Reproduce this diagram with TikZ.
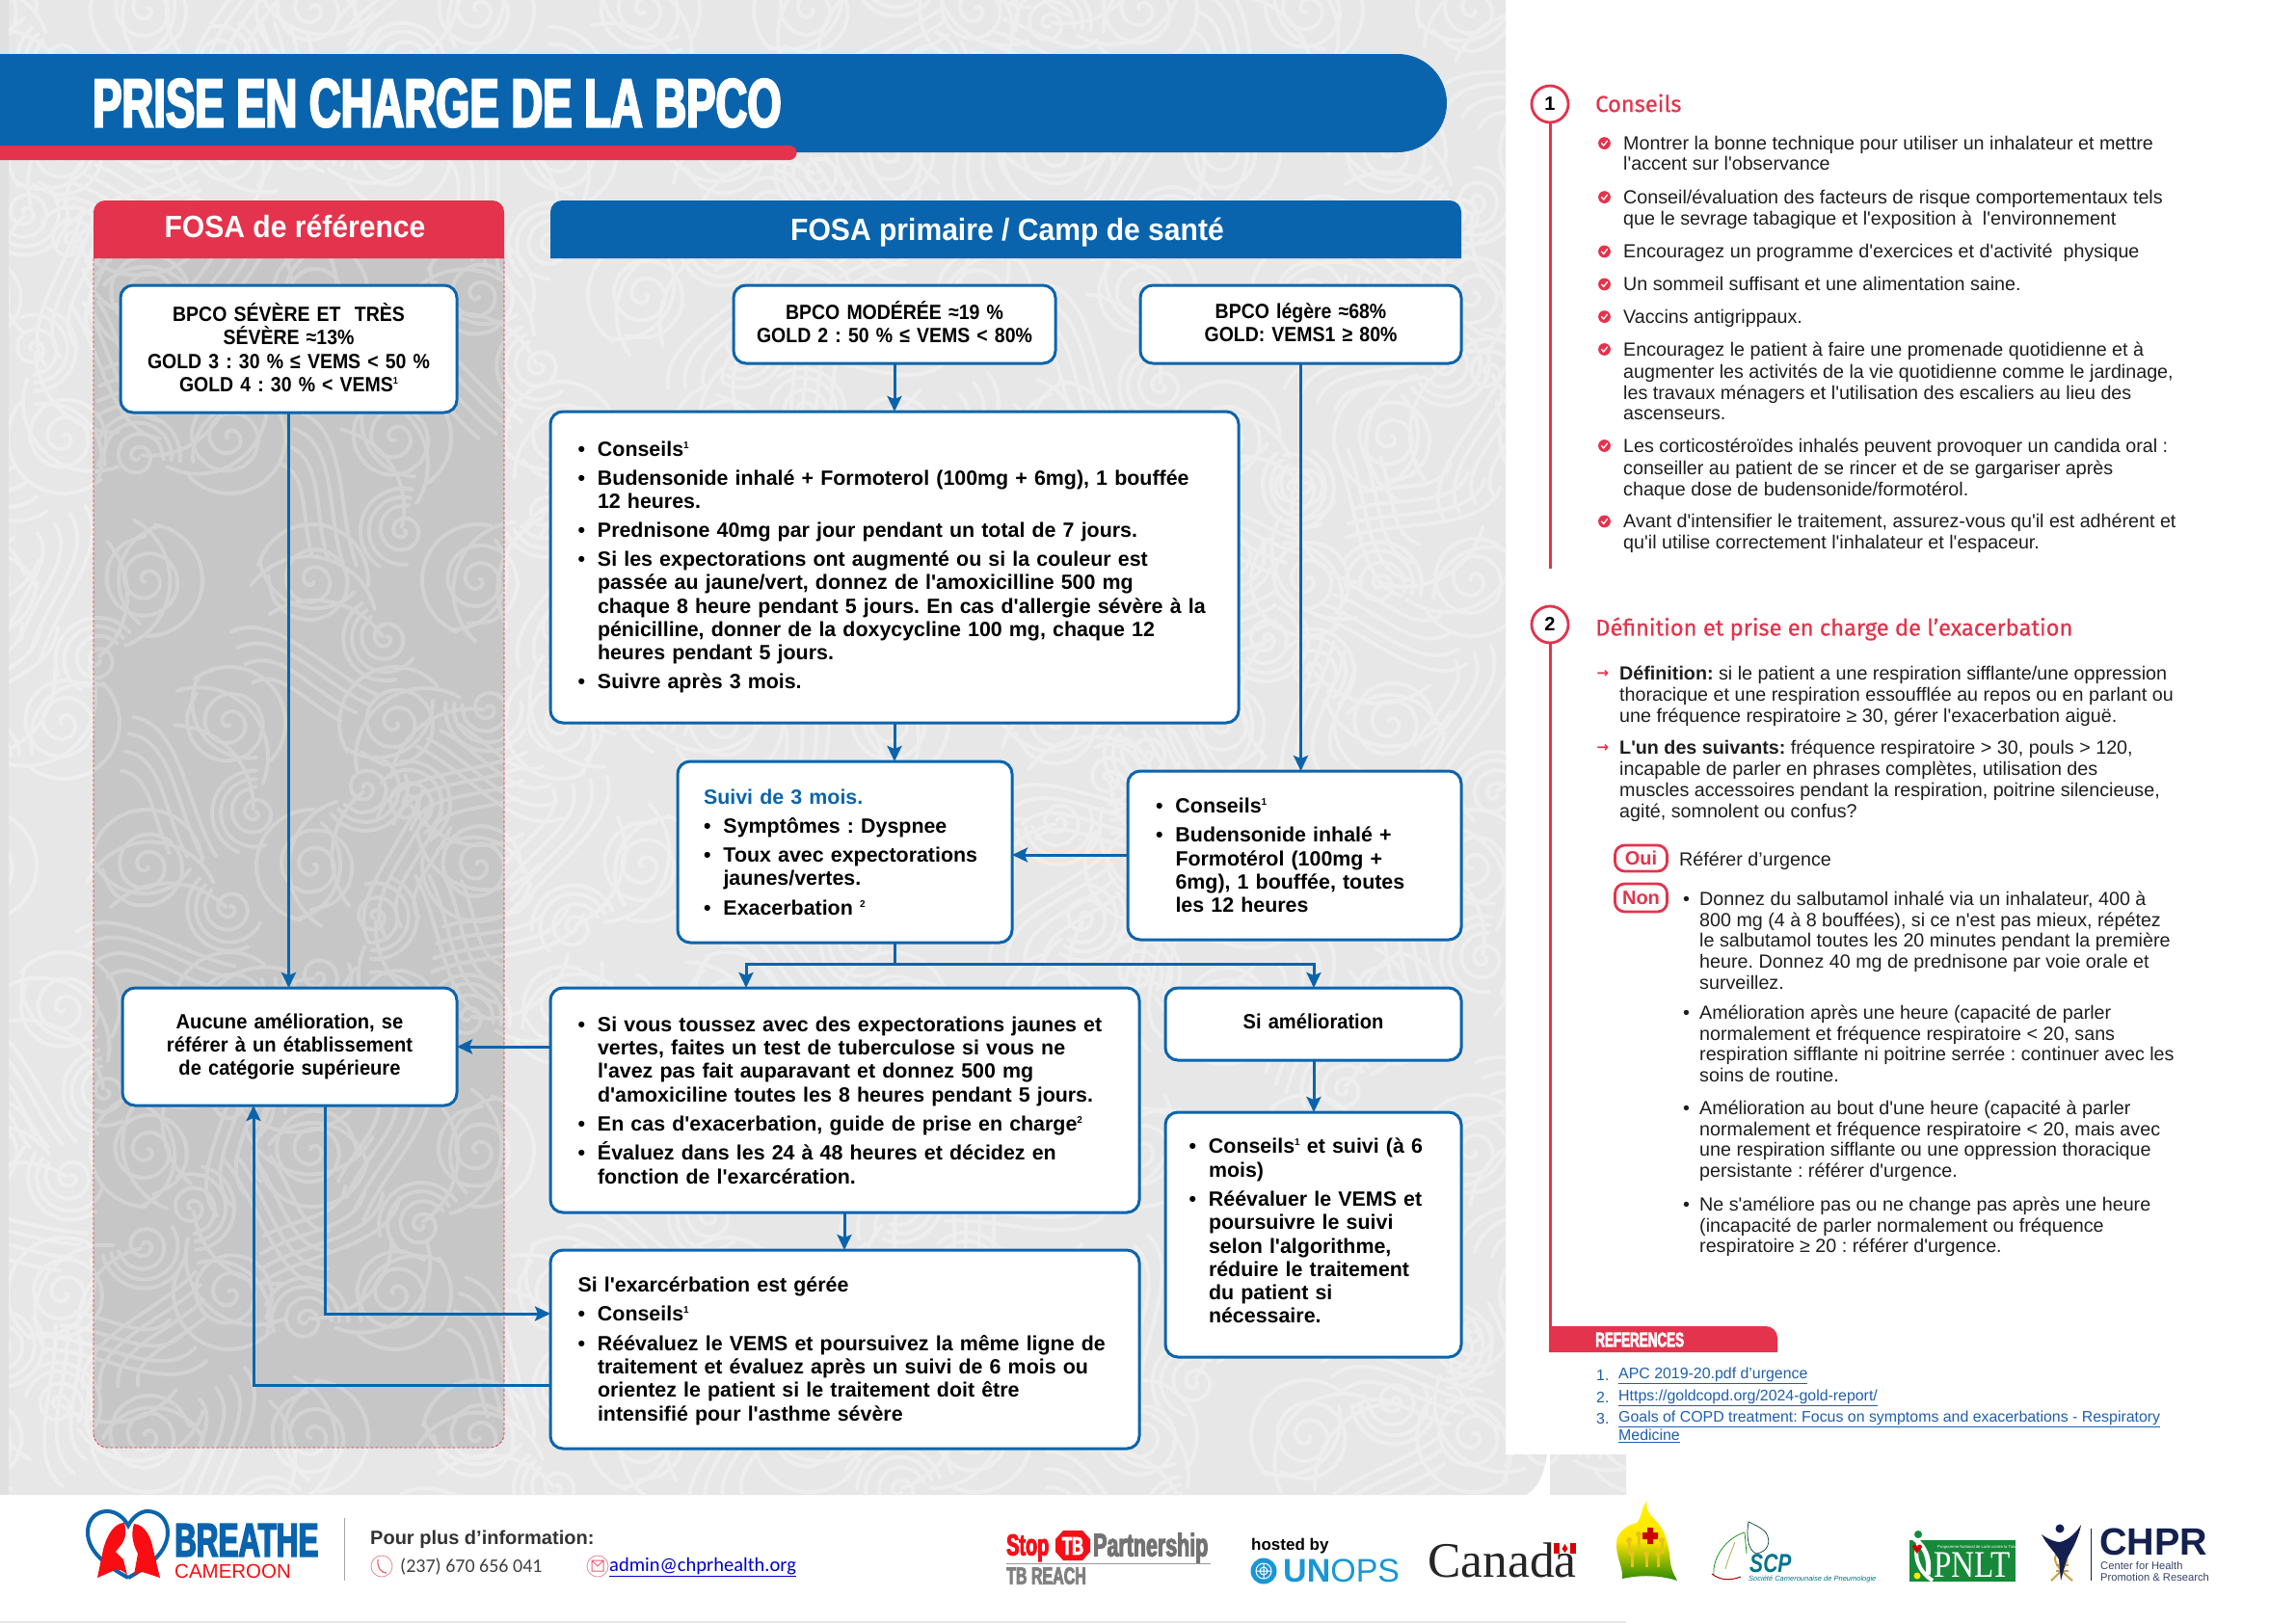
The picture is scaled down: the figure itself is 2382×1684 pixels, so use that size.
\documentclass[tikz,border=0pt]{standalone}
\usepackage{fontspec}
\defaultfontfeatures[\rmfamily]{}
\setmainfont{Liberation Sans}
\newfontfamily\condf[FakeStretch=0.64,FakeBold=3]{Liberation Sans}
\newfontfamily\narf[FakeStretch=0.91]{Liberation Sans}
\newfontfamily\narg[FakeStretch=0.94]{Liberation Sans}
\newfontfamily\narh[FakeStretch=0.94]{Liberation Sans}
\newfontfamily\headf[FakeBold=0.5]{Fira Sans}
\newfontfamily\carl{Carlito}
\newfontfamily\serf{Liberation Serif}
\newfontfamily\djv{DejaVu Sans}
\AtBeginDocument{\frenchspacing}
\usetikzlibrary{arrows.meta,calc}
\definecolor{fblue}{HTML}{0A64AD}
\definecolor{cred}{HTML}{E4334C}
\definecolor{bgg}{HTML}{E7E7E7}
\definecolor{bgs}{HTML}{EEEEEE}
\definecolor{pang}{HTML}{C6C6C6}
\definecolor{pans}{HTML}{D2D2D2}
\definecolor{txtk}{HTML}{1E1E1E}
\definecolor{linkb}{HTML}{1F5FAE}
\definecolor{navy}{HTML}{14204F}
\definecolor{gold}{HTML}{C9A24A}
\definecolor{pgreen}{HTML}{178A3A}
\definecolor{unb}{HTML}{1A96D4}
\newcommand{\flowf}{\fontsize{21.4}{24.3}\selectfont\bfseries}
\newcommand{\rtf}{\fontsize{19.7}{21.7}\selectfont}
\newcommand{\rtg}{\fontsize{19.7}{22}\selectfont}
\newcommand{\rth}{\fontsize{19.7}{21.6}\selectfont}
\newcommand{\bl}{\makebox[20.5pt][l]{•}}
\newcommand{\ct}{\hspace*{20.5pt}}
\newcommand{\rb}{\makebox[17pt][l]{•}}
\newcommand{\rc}{\hspace*{17pt}}
\newcommand{\sps}[1]{\raisebox{8pt}{\fontsize{10}{10}\selectfont #1}}
\newcommand{\swtile}{%
  \draw plot[smooth,variable=\t,domain=0.05:1,samples=28] ({46*\t*cos(900*\t)},{46*\t*sin(900*\t)});
  \draw (58,0) arc[start angle=0,end angle=170,radius=58pt];
  \draw (67.5,23) arc[start angle=20,end angle=150,radius=72pt];
  \draw (78,50) arc[start angle=40,end angle=130,radius=84pt];
  \draw (-56,-14) arc[start angle=195,end angle=320,radius=58pt];
  \draw (-78,62) .. controls (-35,35) and (25,95) .. (82,112);
  \draw (-70,78) .. controls (-30,52) and (20,105) .. (72,122);
  \draw (-60,94) .. controls (-25,72) and (15,118) .. (60,132);
  \draw (-50,112) .. controls (-25,94) and (5,126) .. (44,142);
  \begin{scope}[shift={(82,52)},rotate=130]
  \draw plot[smooth,variable=\t,domain=0.08:1,samples=20] ({27*\t*cos(720*\t)},{27*\t*sin(720*\t)});
  \draw (35,0) arc[start angle=0,end angle=200,radius=35pt];
  \draw (44,0) arc[start angle=0,end angle=160,radius=44pt];
  \end{scope}
}
\newcommand{\swirls}[5]{% colour, first col, last col, first row, last row
  \begin{scope}[draw=#1,line width=4pt,line cap=round]
  \foreach \c in {#2,...,#3}{\foreach \r in {#4,...,#5}{
    \pgfmathsetmacro{\px}{\c*172+mod(\r,2)*86-20}
    \pgfmathsetmacro{\py}{\r*148+10}
    \pgfmathsetmacro{\ro}{mod(\c*83+\r*47,360)}
    \begin{scope}[shift={(\px,\py)},rotate=\ro]\swtile\end{scope}
  }}
  \end{scope}
}
\tikzset{
  box/.style={draw=fblue,line width=3pt,fill=white,rounded corners=13pt,inner ysep=0pt,outer sep=0pt,font=\flowf,text=black,anchor=north west},
  arr/.style={draw=fblue,line width=3pt,-{Stealth[length=16pt,width=15pt,inset=3pt]}},
  lin/.style={draw=fblue,line width=3pt},
  rt/.style={anchor=north west,inner sep=0pt,font=\rtf,text=txtk,align=left,yshift=8pt},
  ft/.style={anchor=west,inner sep=0pt},
  redl/.style={draw=cred,line width=3pt},
  numc/.style={circle,draw=cred,line width=2.8pt,fill=white,minimum size=38pt,inner sep=0pt,font=\fontsize{20}{20}\selectfont\bfseries,text=black},
  pill/.style={draw=cred,line width=2.8pt,fill=white,rounded corners=10pt,inner sep=0pt,minimum width=54pt,minimum height=27pt,font=\fontsize{20}{20}\selectfont\bfseries,text=cred},
  hd/.style={anchor=west,inner sep=0pt,font=\headf\fontsize{23.7}{26}\selectfont,text=cred},
  lk/.style={anchor=west,inner sep=0pt,font=\fontsize{15.9}{18}\selectfont,text=linkb},
  hdr/.style={inner sep=0pt,text=white,font=\narh\bfseries\fontsize{32}{33}\selectfont},
}
\newcommand{\chk}[2]{\fill[cred] (#1,#2) circle (6.4pt);
  \draw[white,line width=1.3pt,line cap=round] ({#1-3},{#2}) -- ({#1-0.8},{#2+2.4}) -- ({#1+3},{#2-2.4});}
\newcommand{\rarw}[2]{\node[anchor=center,inner sep=0pt,text=cred,font=\djv\fontsize{15}{15}\selectfont\bfseries] (#2) at (1663,#1) {→};}
\begin{document}
\begin{tikzpicture}[x=1pt,y=-1pt]
\useasboundingbox (0,0) rectangle (2382,1684);
% ---- backgrounds
\fill[white] (0,0) rectangle (2382,1684);
\begin{scope}
\clip (0,0) -- (1562,0) -- (1562,1509) -- (1605,1509) .. controls (1602,1530) and (1595,1545) .. (1583,1551) -- (0,1551) -- cycle
      (1608,1509) rectangle (1687,1551);
\fill[bgg] (0,0) rectangle (1700,1560);
\swirls{bgs}{0}{10}{0}{10}
\end{scope}
\fill[black!12] (0,0) rectangle (9,1551);
\fill[bgg] (0,1682) rectangle (1687,1684);
% ---- title band
\fill[fblue] (0,56) -- (1450,56) arc[start angle=90,end angle=-90,radius=51pt] -- (0,158) -- cycle;
\fill[cred] (0,151) -- (819,151) arc[start angle=90,end angle=-90,radius=7.5pt] -- (0,166) -- cycle;
\node[anchor=west,inner sep=0pt,text=white,font=\condf\bfseries\fontsize{71}{71}\selectfont] (title) at (96,107) {PRISE EN CHARGE DE LA BPCO};
% ---- FOSA de reference panel
\begin{scope}
\clip (97,268) -- (97,1487) arc[start angle=180,end angle=270,radius=15pt] -- (508,1502) arc[start angle=270,end angle=360,radius=15pt] -- (523,268) -- cycle;
\fill[pang] (90,260) rectangle (530,1510);
\swirls{pans}{0}{3}{1}{10}
\end{scope}
\draw[cred,line width=.8pt,densely dashed] (97,268) -- (97,1487) arc[start angle=180,end angle=270,radius=15pt] -- (508,1502) arc[start angle=270,end angle=360,radius=15pt] -- (523,268);
\fill[cred] (97,268) -- (97,220) arc[start angle=180,end angle=90,radius=12pt] -- (511,208) arc[start angle=90,end angle=0,radius=12pt] -- (523,268) -- cycle;
\node[hdr] (hleft) at (306,235) {FOSA de référence};
\fill[fblue] (571,268) -- (571,220) arc[start angle=180,end angle=90,radius=12pt] -- (1504,208) arc[start angle=90,end angle=0,radius=12pt] -- (1516,268) -- cycle;
\node[hdr] (hright) at (1045,241) {FOSA primaire / Camp de santé};
% ---- flow boxes
\node[box,font=\narf\flowf,align=center,text width=340pt,inner xsep=4.5pt,minimum height=132pt] (A) at (125,296)
 {BPCO SÉVÈRE ET \ TRÈS\\SÉVÈRE ≈13\%\\GOLD 3 : 30 \% ≤ VEMS < 50 \%\\GOLD 4 : 30 \% < VEMS\sps{1}\rule[-3pt]{0pt}{0pt}};
\node[box,font=\narf\flowf,align=center,text width=324pt,inner xsep=5pt,minimum height=81pt] (B) at (761,296)
 {BPCO MODÉRÉE ≈19 \%\\GOLD 2 : 50 \% ≤ VEMS < 80\%\rule[-5pt]{0pt}{0pt}};
\node[box,font=\narf\flowf,align=center,text width=323pt,inner xsep=5pt,minimum height=81pt] (C) at (1183,296)
 {BPCO légère ≈68\%\\GOLD: VEMS1 ≥ 80\%\rule[-4pt]{0pt}{0pt}};
\node[box,align=left,text width=657pt,inner xsep=28.5pt,minimum height=323pt] (D) at (571,427)
 {\bl Conseils\sps{1}\\[5.8pt]
  \bl Budensonide inhalé + Formoterol (100mg + 6mg), 1 bouffée\\
  \ct 12 heures.\\[5.8pt]
  \bl Prednisone 40mg par jour pendant un total de 7 jours.\\[5.8pt]
  \bl Si les expectorations ont augmenté ou si la couleur est\\
  \ct passée au jaune/vert, donnez de l'amoxicilline 500 mg\\
  \ct chaque 8 heure pendant 5 jours. En cas d'allergie sévère à la\\
  \ct pénicilline, donner de la doxycycline 100 mg, chaque 12\\
  \ct heures pendant 5 jours.\\[5.8pt]
  \bl Suivre après 3 mois.};
\node[box,align=left,text width=293pt,inner xsep=27pt,minimum height=188pt] (E) at (703,790)
 {\textcolor{fblue}{Suivi de 3 mois.}\\[6pt]
  \bl Symptômes : Dyspnee\\[6pt]
  \bl Toux avec expectorations\\
  \ct jaunes/vertes.\\[6pt]
  \bl Exacerbation \sps{2}};
\node[box,align=left,text width=288pt,inner xsep=29pt,minimum height=175pt] (F) at (1170,800)
 {\bl Conseils\sps{1}\\[6pt]
  \bl Budensonide inhalé +\\
  \ct Formotérol (100mg +\\
  \ct 6mg), 1 bouffée, toutes\\
  \ct les 12 heures};
\node[box,font=\narg\flowf,align=center,text width=337pt,inner xsep=5pt,minimum height=122pt] (G) at (127,1025)
 {Aucune amélioration, se\\référer à un établissement\\de catégorie supérieure};
\node[box,align=left,text width=554pt,inner xsep=28.5pt,minimum height=233pt] (H) at (571,1025)
 {\bl Si vous toussez avec des expectorations jaunes et\\
  \ct vertes, faites un test de tuberculose si vous ne\\
  \ct l'avez pas fait auparavant et donnez 500 mg\\
  \ct d'amoxiciline toutes les 8 heures pendant 5 jours.\\[6pt]
  \bl En cas d'exacerbation, guide de prise en charge\sps{2}\\[6pt]
  \bl Évaluez dans les 24 à 48 heures et décidez en\\
  \ct fonction de l'exarcération.};
\node[box,font=\narg\flowf,align=center,text width=297pt,inner xsep=5pt,minimum height=75pt] (I) at (1209,1025) {Si amélioration\rule[-5pt]{0pt}{0pt}};
\node[box,align=left,text width=258pt,inner xsep=24.5pt,minimum height=254pt] (J) at (1209,1154)
 {\bl Conseils\sps{1} et suivi (à 6\\
  \ct mois)\\[6pt]
  \bl Réévaluer le VEMS et\\
  \ct poursuivre le suivi\\
  \ct selon l'algorithme,\\
  \ct réduire le traitement\\
  \ct du patient si\\
  \ct nécessaire.\rule[-8pt]{0pt}{0pt}};
\node[box,align=left,text width=554pt,inner xsep=28.5pt,minimum height=206pt] (K) at (571,1297)
 {\rule{0pt}{19pt}Si l'exarcérbation est gérée\\[6pt]
  \bl Conseils\sps{1}\\[6pt]
  \bl Réévaluez le VEMS et poursuivez la même ligne de\\
  \ct traitement et évaluez après un suivi de 6 mois ou\\
  \ct orientez le patient si le traitement doit être\\
  \ct intensifié pour l'asthme sévère};
% ---- connectors
\coordinate (jm) at (928,1000);
\coordinate (jl) at (774,1000);
\coordinate (jr) at (1363,1000);
\coordinate (gb1) at (337,1363);
\coordinate (gb2) at (263,1437);
\draw[arr] (A.south) -- (A.south |- G.north);
\draw[arr] (B.south) -- (B.south |- D.north);
\draw[arr] (C.south) -- (C.south |- F.north);
\draw[arr] (D.south) -- (D.south |- E.north);
\draw[arr] (F.west |- 0,887) -- (E.east |- 0,887);
\draw[lin] (D.south |- E.south) -- (jm);
\draw[arr] (jm) -- (jl) -- (jl |- H.north);
\draw[arr] (jm) -- (jr) -- (jr |- I.north);
\draw[arr] (H.west |- 0,1086) -- (G.east |- 0,1086);
\draw[arr] (H.south -| 876,0) -- (K.north -| 876,0);
\draw[arr] (gb1 |- G.south) -- (gb1) -- (K.west |- gb1);
\draw[arr] (K.west |- gb2) -- (gb2) -- (gb2 |- G.south);
\draw[arr] (jr |- I.south) -- (jr |- J.north);
% ---- right panel: section 1
\node[numc] (n1) at (1608,108) {1};
\coordinate (e1) at (1608,590);
\draw[redl] (n1.south) -- (e1);
\node[hd] (h1) at (1655,107) {Conseils};
\foreach \yy in {148.6,204.6,261,295,328.6,362.5,462.5,541}{\chk{1664.5}{\yy}}
\node[rt] (s1a) at (1684,148.6) {Montrer la bonne technique pour utiliser un inhalateur et mettre\\l'accent sur l'observance};
\node[rt] (s1b) at (1684,204.6) {Conseil/évaluation des facteurs de risque comportementaux tels\\que le sevrage tabagique et l'exposition à \ l'environnement};
\node[rt] (s1c) at (1684,261) {Encouragez un programme d'exercices et d'activité \ physique};
\node[rt] (s1d) at (1684,295) {Un sommeil suffisant et une alimentation saine.};
\node[rt] (s1e) at (1684,328.6) {Vaccins antigrippaux.};
\node[rt] (s1f) at (1684,362.5) {Encouragez le patient à faire une promenade quotidienne et à\\[1.4pt]augmenter les activités de la vie quotidienne comme le jardinage,\\les travaux ménagers et l'utilisation des escaliers au lieu des\\ascenseurs.};
\node[rt] (s1g) at (1684,462.5) {Les corticostéroïdes inhalés peuvent provoquer un candida oral :\\[1.4pt]conseiller au patient de se rincer et de se gargariser après\\chaque dose de budensonide/formotérol.};
\node[rt] (s1h) at (1684,541) {Avant d'intensifier le traitement, assurez-vous qu'il est adhérent et\\qu'il utilise correctement l'inhalateur et l'espaceur.};
% ---- right panel: section 2
\node[numc] (n2) at (1608,648) {2};
\node[hd] (h2) at (1655,652.5) {Définition et prise en charge de l’exacerbation};
\fill[cred] (1607,1376) -- (1832,1376) arc[start angle=90,end angle=0,radius=12pt] -- (1844,1403) -- (1607,1403) -- cycle;
\coordinate (reft) at (1608,1376);
\draw[redl] (n2.south) -- (reft);
\node[ft,text=white,font=\condf\bfseries\fontsize{21}{22}\selectfont] (rf) at (1655,1390) {REFERENCES};
\rarw{699}{ar1}\rarw{776}{ar2}
\node[rt,font=\rtg] (s2a) at (1680,699) {\textbf{Définition:} si le patient a une respiration sifflante/une oppression\\thoracique et une respiration essoufflée au repos ou en parlant ou\\une fréquence respiratoire ≥ 30, gérer l'exacerbation aiguë.};
\node[rt,font=\rtg] (s2b) at (1680,776) {\textbf{L'un des suivants:} fréquence respiratoire > 30, pouls > 120,\\incapable de parler en phrases complètes, utilisation des\\muscles accessoires pendant la respiration, poitrine silencieuse,\\agité, somnolent ou confus?};
\node[pill] (oui) at (1702.5,890.5) {Oui};
\node[pill,minimum height=29pt] (non) at (1702.5,931.5) {Non};
\node[rt] (ouit) at (1742,891.5) {Référer d’urgence};
\node[rt,font=\rth] (n1t) at (1746,933) {\rb Donnez du salbutamol inhalé via un inhalateur, 400 à\\\rc 800 mg (4 à 8 bouffées), si ce n'est pas mieux, répétez\\\rc le salbutamol toutes les 20 minutes pendant la première\\\rc heure. Donnez 40 mg de prednisone par voie orale et\\\rc surveillez.};
\node[rt,font=\rth] (n2t) at (1746,1051) {\rb Amélioration après une heure (capacité de parler\\\rc normalement et fréquence respiratoire < 20, sans\\\rc respiration sifflante ni poitrine serrée : continuer avec les\\\rc soins de routine.};
\node[rt,font=\rth] (n3t) at (1746,1150) {\rb Amélioration au bout d'une heure (capacité à parler\\\rc normalement et fréquence respiratoire < 20, mais avec\\\rc une respiration sifflante ou une oppression thoracique\\\rc persistante : référer d'urgence.};
\node[rt,font=\rth] (n4t) at (1746,1250) {\rb Ne s'améliore pas ou ne change pas après une heure\\\rc (incapacité de parler normalement ou fréquence\\\rc respiratoire ≥ 20 : référer d'urgence.};
% ---- references
\node[lk] (r1n) at (1656,1427) {1.};
\node[lk] (r2n) at (1656,1450) {2.};
\node[lk] (r3n) at (1656,1472) {3.};
\node[lk] (r1) at (1679,1427) {\underline{APC 2019-20.pdf d’urgence}};
\node[lk] (r2) at (1679,1450) {\underline{Https://goldcopd.org/2024-gold-report/}};
\node[lk] (r3) at (1679,1472) {\underline{Goals of COPD treatment: Focus on symptoms and exacerbations - Respiratory}};
\node[lk] (r3b) at (1679,1490) {\underline{Medicine}};
% ---- footer: Breathe
\draw[fblue,line width=4pt] (133,1637) .. controls (111,1625) and (91,1610) .. (91,1590) .. controls (91,1575) and (101,1568) .. (111,1568) .. controls (121,1568) and (129,1575) .. (133,1583) .. controls (137,1575) and (145,1568) .. (153,1568) .. controls (165,1568) and (174,1577) .. (174,1590) .. controls (174,1610) and (155,1625) .. (133,1637);
\fill[red!75!cred] (129,1580) .. controls (119,1580) and (111,1592) .. (107,1608) -- (101,1637) -- (117,1630) .. controls (121,1626) and (129,1630) .. (132,1634) -- (128,1618) -- (120,1610) .. controls (126,1602) and (133,1598) .. (129,1580) -- cycle;
\fill[red!75!cred] (139,1581) .. controls (151,1582) and (157,1596) .. (159,1608) -- (166,1637) -- (151,1632) .. controls (147,1630) and (142,1632) .. (139,1634) -- (143,1612) .. controls (139,1604) and (135,1594) .. (139,1581) -- cycle;
\node[ft,text=fblue,font=\condf\bfseries\fontsize{49}{49}\selectfont] (br) at (181,1598) {BREATHE};
\node[ft,text=red!75!cred,font=\fontsize{20.5}{21}\selectfont] (cam) at (181,1630) {CAMEROON};
\draw[black!35,line width=1pt] (357,1575) -- (357,1640);
\node[ft,text=black!80,font=\bfseries\fontsize{20}{20}\selectfont] (pp) at (384,1597) {Pour plus d’information:};
\draw[cred!60,line width=.8pt] (396,1625) circle (11pt);
\draw[cred!80,line width=1.2pt] (392,1618) .. controls (391,1626) and (395,1632) .. (401,1632);
\node[ft,text=black!75,font=\carl\fontsize{20}{20}\selectfont] (ph) at (415,1626) {(237) 670 656 041};
\draw[cred!60,line width=.8pt] (620,1625) circle (11pt);
\draw[cred!80,line width=1pt] (614,1619) rectangle (626,1630) (614,1619) -- (620,1625) -- (626,1619);
\node[ft,text=blue!80!black,font=\carl\fontsize{20.5}{20}\selectfont] (ml) at (632,1626) {\underline{admin@chprhealth.org}};
% ---- footer: Stop TB
\node[ft,text=red!70!cred,font=\condf\bfseries\fontsize{31}{31}\selectfont] (stp) at (1044,1606) {Stop};
\fill[red!70!cred] (1103,1588) -- (1123,1588) -- (1131,1597) -- (1131,1610) -- (1123,1619) -- (1103,1619) -- (1095,1610) -- (1095,1597) -- cycle;
\node[inner sep=0pt,text=white,font=\condf\bfseries\fontsize{26}{26}\selectfont] (tb) at (1113,1604) {TB};
\node[ft,text=black!55,font=\condf\bfseries\fontsize{33.5}{34}\selectfont] (pa) at (1134,1606) {Partnership};
\draw[black!40,line width=1pt] (1044,1622) -- (1256,1622);
\node[ft,text=black!50,font=\condf\bfseries\fontsize{25}{25}\selectfont] (tbr) at (1044,1635) {TB REACH};
% ---- hosted by UNOPS
\node[ft,text=black,font=\bfseries\fontsize{17}{18}\selectfont] (hb) at (1298,1604) {hosted by};
\fill[unb] (1311,1630) circle (13.5pt);
\draw[white,line width=1pt] (1311,1630) circle (8pt) (1311,1630) circle (4pt) (1303,1630) -- (1319,1630) (1311,1622) -- (1311,1638);
\node[ft,text=unb,font=\fontsize{34}{34}\selectfont] (un) at (1331,1630) {\textbf{UN}OPS};
% ---- Canada
\node[ft,text=black!85,font=\serf\fontsize{51.5}{52}\selectfont] (can) at (1481,1619) {Canada};
\fill[red!85!black] (1612,1601) rectangle (1635,1612);
\fill[white] (1618,1601) rectangle (1629,1612);
\fill[red!85!black] (1623.5,1602) -- (1626.5,1607) -- (1623.5,1611) -- (1620.5,1607) -- cycle;
% ---- yellow emblem
\shade[top color=yellow!90!orange,bottom color=green!45!black!85!yellow,middle color=yellow!80!orange] (1709,1557) .. controls (1706,1565) and (1712,1572) .. (1718,1578) .. controls (1730,1590) and (1732,1610) .. (1733,1622) .. controls (1735,1632) and (1738,1636) .. (1740,1640) .. controls (1722,1634) and (1700,1634) .. (1683,1638) .. controls (1684,1625) and (1676,1615) .. (1677,1600) .. controls (1678,1588) and (1690,1582) .. (1698,1580) .. controls (1704,1574) and (1702,1565) .. (1709,1557) -- cycle;
\foreach \hx/\hy in {1690/1598,1700/1592,1724/1598,1693/1612,1708/1612,1720/1612}{\fill[yellow!70!orange!90!black] (\hx,\hy) circle (3pt); \draw[yellow!70!orange!90!black,line width=3pt] (\hx,\hy) -- ({\hx},{\hy+14});}
\fill[red!80!black] (1709,1585) rectangle (1715,1602) (1704,1590) rectangle (1720,1597);
% ---- SCP
\draw[green!55!black,line width=.7pt] (1810,1590) .. controls (1792,1595) and (1776,1615) .. (1778,1635);
\draw[yellow!60!black,line width=.7pt] (1800,1600) .. controls (1796,1610) and (1792,1620) .. (1790,1628);
\draw[green!55!black,line width=.7pt] (1810,1590) -- (1812,1612);
\draw[black!50!teal,line width=.7pt] (1814,1579) .. controls (1812,1590) and (1812,1608) .. (1822,1612) .. controls (1834,1610) and (1838,1600) .. (1832,1590) .. controls (1826,1584) and (1820,1582) .. (1814,1579) -- cycle;
\draw[red!70!black,line width=1pt] (1776,1633) .. controls (1785,1640) and (1795,1640) .. (1806,1636);
\node[ft,text=teal!90!blue,font=\bfseries\itshape\fontsize{27}{27}\selectfont] (scp) at (1815,1622) {\addfontfeature{FakeStretch=0.78}SCP};
\node[ft,text=teal!90!blue,font=\itshape\fontsize{7.5}{9}\selectfont] (scpt) at (1814,1638) {Société Camerounaise de Pneumologie};
% ---- PNLT
\fill[pgreen] (1981,1598) rectangle (2091,1641);
\draw[white,line width=5pt] (1976,1590) .. controls (1996,1600) and (2003,1615) .. (2000,1634) ;
\draw[white,line width=4pt] (1990,1602) .. controls (1985,1615) and (1990,1630) .. (2005,1640);
\fill[pgreen] (1990,1592) circle (4pt);
\fill[red!80!black] (1989,1612) -- (1984,1605) arc[start angle=180,end angle=0,radius=2.5pt] arc[start angle=180,end angle=0,radius=2.5pt] -- cycle;
\fill[yellow!90!orange] (1989,1635) circle (3.5pt);
\node[ft,text=white,font=\serf\fontsize{39}{39}\selectfont] (pn) at (2006,1624) {\addfontfeature{FakeStretch=0.85}PNLT};
\node[ft,text=white,font=\fontsize{4.2}{5}\selectfont] (pnt) at (2010,1605) {Programme National de Lutte contre la Tuberculose};
% ---- CHPR
\draw[gold,line width=2pt] (2128,1600) .. controls (2150,1612) and (2150,1620) .. (2128,1640);
\draw[gold,line width=2pt] (2150,1600) .. controls (2126,1612) and (2126,1620) .. (2150,1640);
\foreach \yy in {1606,1612,1624,1630}{\draw[gold,line width=1.2pt] (2133,\yy) -- (2146,\yy);}
\fill[navy] (2137,1586) circle (4.5pt);
\fill[navy] (2118,1592) .. controls (2126,1598) and (2134,1600) .. (2137,1600) .. controls (2146,1598) and (2154,1590) .. (2159,1582) .. controls (2156,1598) and (2148,1610) .. (2144,1618) -- (2138,1640) -- (2136,1618) .. controls (2132,1610) and (2124,1604) .. (2118,1592) -- cycle;
\draw[navy,line width=1pt] (2169,1586) -- (2169,1640);
\node[ft,text=navy,font=\bfseries\fontsize{39.5}{40}\selectfont] (chpr) at (2178,1600) {CHPR};
\node[ft,text=navy!85,font=\fontsize{11.2}{14}\selectfont] (cf) at (2179,1624) {Center for Health};
\node[ft,text=navy!85,font=\fontsize{11.2}{14}\selectfont] (pr) at (2179,1636) {Promotion \& Research};
\end{tikzpicture}
\end{document}
